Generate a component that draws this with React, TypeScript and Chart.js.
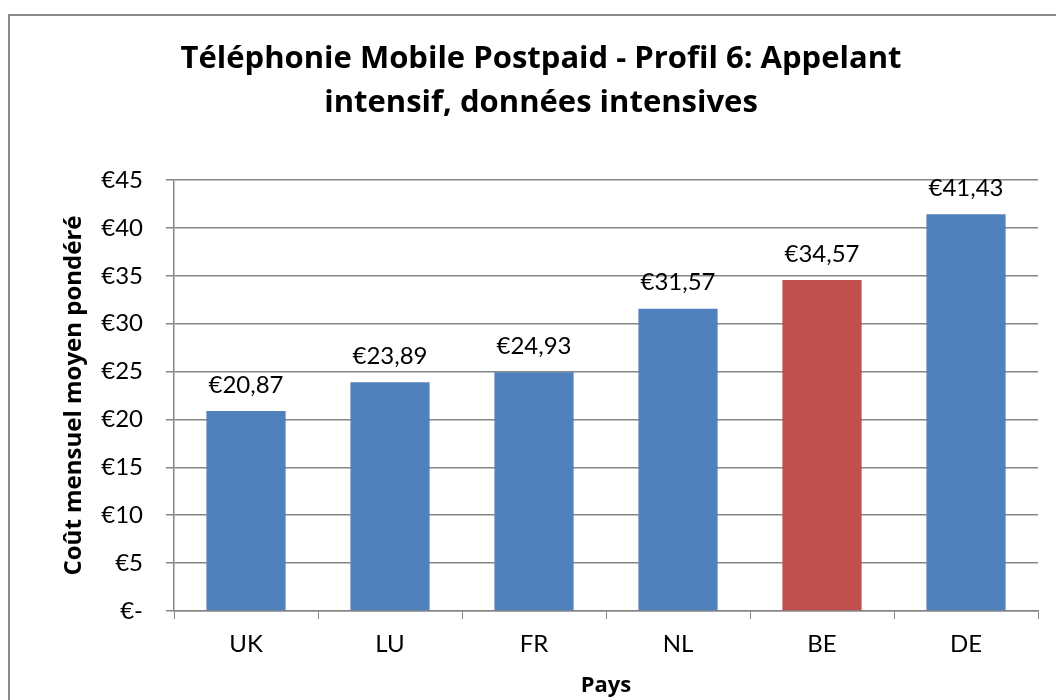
import React, { useEffect, useRef } from "react";
import { Chart, registerables } from "chart.js";

Chart.register(...registerables);

const categories = ["UK", "LU", "FR", "NL", "BE", "DE"];
const values = [20.87, 23.89, 24.93, 31.57, 34.57, 41.43];
const barColors = ["#4F81BD", "#4F81BD", "#4F81BD", "#4F81BD", "#C0504D", "#4F81BD"];
const titleLines = ["Téléphonie Mobile Postpaid - Profil 6: Appelant", "intensif, données intensives"];
const yTitle = "Coût mensuel moyen pondéré";
const xTitle = "Pays";

const W = 1082;
const H = 700;
const FONT = "Lato, 'Open Sans', sans-serif";
const BOLD_FONT = "'Open Sans', Lato, sans-serif";

const fmtTick = (v: number) => (v === 0 ? "€-" : "€" + v);
const fmtLabel = (v: number) => "€" + v.toFixed(2).replace(".", ",");

const framePlugin = {
  id: "frame",
  beforeDraw(chart: any) {
    const ctx = chart.ctx;
    ctx.save();
    ctx.fillStyle = "#ffffff";
    ctx.fillRect(0, 0, chart.width, chart.height);
    ctx.strokeStyle = "#8a8a8a";
    ctx.lineWidth = 2;
    ctx.strokeRect(9, 15, chart.width - 16, chart.height + 20);
    ctx.restore();
  },
};

const valueLabelPlugin = {
  id: "valueLabels",
  afterDatasetsDraw(chart: any) {
    const ctx = chart.ctx;
    const meta = chart.getDatasetMeta(0);
    ctx.save();
    ctx.font = "24px " + FONT;
    ctx.fillStyle = "#000";
    ctx.textAlign = "center";
    ctx.textBaseline = "middle";
    meta.data.forEach((el: any, i: number) => {
      ctx.fillText(fmtLabel(values[i]), el.x, el.y - 26);
    });
    ctx.restore();
  },
};

export default function App() {
  const ref = useRef<HTMLCanvasElement | null>(null);
  useEffect(() => {
    if (!ref.current) return;
    const chart = new Chart(ref.current, {
      type: "bar",
      data: {
        labels: categories,
        datasets: [
          {
            data: values,
            backgroundColor: barColors,
            categoryPercentage: 1,
            barPercentage: 0.55,
          },
        ],
      },
      options: {
        responsive: false,
        animation: false,
        layout: { padding: 0 },
        plugins: {
          legend: { display: false },
          tooltip: { enabled: false },
          title: {
            display: true,
            text: titleLines,
            color: "#000",
            font: { family: BOLD_FONT, size: 31, weight: "bold", lineHeight: 44 / 31 },
            padding: { top: 37, bottom: 55 },
          },
        },
        scales: {
          x: {
            offset: true,
            grid: {
              display: true,
              drawOnChartArea: false,
              offset: true,
              tickLength: 8,
              color: "#868686",
            },
            border: { display: true, color: "#868686", width: 1.5 },
            ticks: {
              color: "#000",
              font: { family: FONT, size: 24 },
              padding: 11,
            },
            title: {
              display: true,
              text: xTitle,
              color: "#000",
              font: { family: BOLD_FONT, size: 22, weight: "bold" },
              padding: { top: 0, bottom: 1 },
            },
            afterFit(s: any) {
              s.height = 89;
            },
          },
          y: {
            min: 0,
            max: 45,
            ticks: {
              stepSize: 5,
              color: "#000",
              font: { family: FONT, size: 24 },
              padding: 23,
              callback: (v: any) => fmtTick(Number(v)),
            },
            grid: { color: "#868686", tickLength: 8, lineWidth: 1.5 },
            border: { display: true, color: "#868686", width: 1.5 },
            title: {
              display: true,
              text: yTitle,
              color: "#000",
              font: { family: BOLD_FONT, size: 24, weight: "bold" },
              padding: { top: 60, bottom: 0 },
            },
            afterFit(s: any) {
              s.width = 174;
            },
          },
          yRight: {
            position: "right",
            display: true,
            grid: { display: false },
            border: { display: false },
            ticks: { display: false },
            afterFit(s: any) {
              s.width = W - 1038;
            },
          },
        },
      },
      plugins: [framePlugin, valueLabelPlugin],
    } as any);
    return () => chart.destroy();
  }, []);
  return (
    <div style={{ position: "fixed", left: 0, top: 0, width: 1056, height: 700, overflow: "hidden", background: "#fff" }}>
      <canvas ref={ref} width={W} height={H} style={{ width: W, height: H, display: "block" }} />
    </div>
  );
}
